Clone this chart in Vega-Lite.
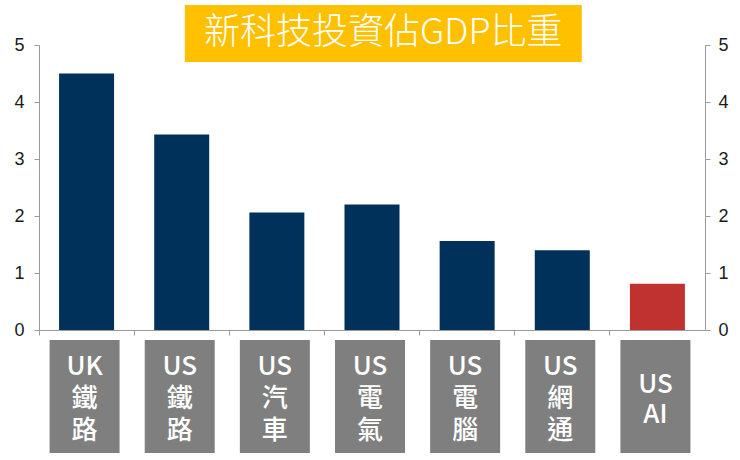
{
  "$schema": "https://vega.github.io/schema/vega-lite/v6.json",
  "width": 666,
  "height": 285,
  "autosize": {"type": "none"},
  "padding": {"left": 39, "top": 45, "right": 35, "bottom": 130},
  "background": "white",
  "config": {
    "view": {"stroke": null},
    "axis": {
      "grid": false,
      "domainColor": "#9a9a9a",
      "tickColor": "#9a9a9a",
      "labelFont": "Liberation Sans",
      "labelFontSize": 18,
      "labelColor": "#1a1a1a"
    }
  },
  "datasets": {
    "bars": [
      {"cat": "UK鐵路", "label": "UK\n鐵\n路", "value": 4.5, "highlight": "n"},
      {"cat": "US鐵路", "label": "US\n鐵\n路", "value": 3.43, "highlight": "n"},
      {"cat": "US汽車", "label": "US\n汽\n車", "value": 2.06, "highlight": "n"},
      {"cat": "US電氣", "label": "US\n電\n氣", "value": 2.2, "highlight": "n"},
      {"cat": "US電腦", "label": "US\n電\n腦", "value": 1.56, "highlight": "n"},
      {"cat": "US網通", "label": "US\n網\n通", "value": 1.4, "highlight": "n"},
      {"cat": "US AI", "label": "US\nAI", "value": 0.81, "highlight": "y"}
    ],
    "title": [{"text": "新科技投資佔GDP比重"}]
  },
  "resolve": {"scale": {"x": "independent"}, "axis": {"y": "independent"}},
  "layer": [
    {
      "data": {"name": "bars"},
      "mark": {"type": "bar", "width": 55},
      "encoding": {
        "x": {"field": "cat", "type": "nominal", "sort": null,
          "scale": {"paddingInner": 0, "paddingOuter": 0, "domain": ["UK鐵路", "US鐵路", "US汽車", "US電氣", "US電腦", "US網通", "US AI"]},
          "axis": {"title": null, "labels": false, "bandPosition": 0, "tickSize": 5}},
        "y": {"field": "value", "type": "quantitative",
          "scale": {"domain": [0, 5], "nice": false},
          "axis": {"title": null, "orient": "left", "values": [0, 1, 2, 3, 4, 5], "tickSize": 5, "labelPadding": 10}},
        "color": {"field": "highlight", "type": "nominal",
          "scale": {"domain": ["n", "y"], "range": ["#00315B", "#C0322F"]}, "legend": null}
      }
    },
    {
      "data": {"name": "bars"},
      "mark": {"type": "bar", "width": 70, "color": "#7f7f7f", "xOffset": -2},
      "encoding": {
        "x": {"field": "cat", "type": "nominal", "sort": null,
          "scale": {"paddingInner": 0, "paddingOuter": 0, "domain": ["UK鐵路", "US鐵路", "US汽車", "US電氣", "US電腦", "US網通", "US AI"]}, "axis": null},
        "y": {"datum": -0.175, "type": "quantitative",
          "scale": {"domain": [0, 5], "nice": false},
          "axis": {"title": null, "orient": "right", "values": [0, 1, 2, 3, 4, 5], "tickSize": 5, "labelPadding": 8}},
        "y2": {"datum": -2.16}
      }
    },
    {
      "data": {"name": "bars"},
      "transform": [{"filter": "datum.highlight == 'n'"}],
      "mark": {"type": "text", "color": "white", "font": "Noto Sans CJK TC", "fontWeight": 500, "fontSize": 26, "lineBreak": "\n", "lineHeight": 32, "baseline": "middle", "align": "center", "dx": -2},
      "encoding": {
        "x": {"field": "cat", "type": "nominal", "sort": null,
          "scale": {"paddingInner": 0, "paddingOuter": 0, "domain": ["UK鐵路", "US鐵路", "US汽車", "US電氣", "US電腦", "US網通", "US AI"]}, "axis": null},
        "y": {"datum": -0.65, "type": "quantitative",
          "scale": {"domain": [0, 5], "nice": false}, "axis": null},
        "text": {"field": "label"}
      }
    },
    {
      "data": {"name": "bars"},
      "transform": [{"filter": "datum.highlight == 'y'"}],
      "mark": {"type": "text", "color": "white", "font": "Noto Sans CJK TC", "fontWeight": 500, "fontSize": 26, "lineBreak": "\n", "lineHeight": 30, "baseline": "middle", "align": "center", "dx": -2},
      "encoding": {
        "x": {"field": "cat", "type": "nominal", "sort": null,
          "scale": {"paddingInner": 0, "paddingOuter": 0, "domain": ["UK鐵路", "US鐵路", "US汽車", "US電氣", "US電腦", "US網通", "US AI"]}, "axis": null},
        "y": {"datum": -0.96, "type": "quantitative",
          "scale": {"domain": [0, 5], "nice": false}, "axis": null},
        "text": {"field": "label"}
      }
    },
    {
      "data": {"name": "title"},
      "mark": {"type": "rect", "color": "#FFC000"},
      "encoding": {
        "x": {"datum": 0.219, "type": "quantitative", "scale": {"domain": [0, 1], "nice": false}, "axis": null},
        "x2": {"datum": 0.815},
        "y": {"datum": 5.70, "type": "quantitative", "scale": {"domain": [0, 5], "nice": false}, "axis": null},
        "y2": {"datum": 4.70}
      }
    },
    {
      "data": {"name": "title"},
      "mark": {"type": "text", "color": "white", "font": "Noto Sans CJK TC", "fontWeight": 300, "fontSize": 36, "baseline": "middle", "align": "center"},
      "encoding": {
        "x": {"datum": 0.517, "type": "quantitative", "scale": {"domain": [0, 1], "nice": false}, "axis": null},
        "y": {"datum": 5.21, "type": "quantitative", "scale": {"domain": [0, 5], "nice": false}, "axis": null},
        "text": {"field": "text"}
      }
    }
  ]
}
